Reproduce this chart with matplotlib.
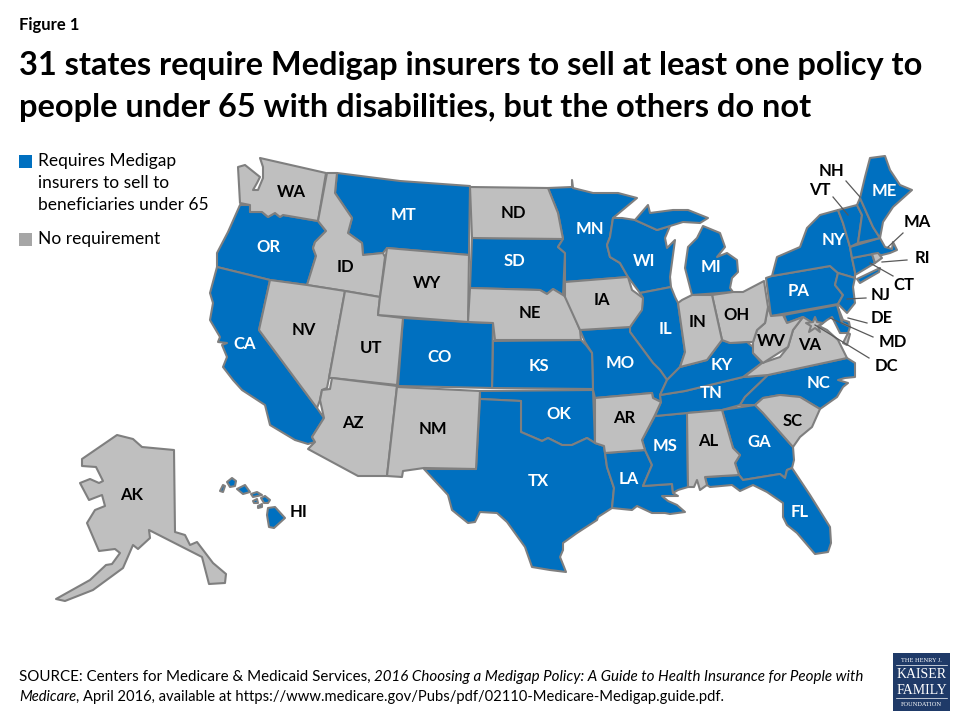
import matplotlib
matplotlib.use('Agg')
import matplotlib.pyplot as plt
from matplotlib.patches import Polygon, Rectangle

plt.rcParams['font.family'] = ['Lato', 'DejaVu Sans']

# state outlines (image pixels)
WA = [(260,158),(326,173),(318,221),(283,215),(280,217),(275,213),(268,217),(262,212),(250,212),(250,205),(240,203),(238,167),(245,165),(255,173),(260,177),(257,183),(253,190),(258,190),(263,178),(263,167)]
OR = [(240,205),(250,205),(250,212),(262,212),(268,217),(275,213),(280,217),(283,215),(318,221),(326,231),(315,242),(313,248),(316,256),(307,285),(270,280),(217,267),(217,253),(228,232)]
CA = [(217,267),(270,280),(259,330),(317,408),(324,418),(312,437),(315,442),(308,444),(295,440),(270,425),(265,405),(242,390),(233,380),(223,367),(227,357),(222,345),(227,343),(218,342),(220,337),(210,320),(213,303),(210,293)]
NV = [(270,280),(307,285),(345,291),(329,378),(327,388),(322,390),(320,400),(317,408),(259,330)]
ID = [(327,173),(337,173),(335,193),(352,218),(348,233),(362,243),(363,255),(383,253),(385,257),(380,297),(345,291),(307,285),(316,256),(313,248),(315,242),(326,231),(318,221)]
MT = [(337,173),(400,181),(470,186),(469,255),(387,248),(383,253),(363,255),(362,243),(348,233),(352,218),(335,193)]
WY = [(387,248),(469,255),(468,322),(378,315),(380,297)]
UT = [(345,291),(380,297),(378,315),(403,318),(397,385),(332,378),(329,378)]
CO = [(403,318),(468,322),(493,323),(492,388),(398,386)]
ND = [(470,187),(548,188),(558,213),(563,239),(472,238)]
SD = [(472,238),(563,239),(558,247),(565,253),(563,295),(553,289),(547,294),(540,290),(470,288)]
NE = [(470,288),(540,290),(547,294),(553,289),(563,295),(567,298),(580,330),(581,340),(495,340),(493,323),(468,322)]
KS = [(493,341),(581,340),(586,345),(592,353),(593,389),(492,388)]
OK = [(480,391),(593,390),(595,443),(587,438),(572,445),(562,445),(548,438),(542,441),(521,432),(521,401),(480,399)]
NM = [(397,387),(480,391),(476,469),(424,468),(403,471),(402,477),(387,476)]
AZ = [(332,378),(397,386),(387,476),(358,476),(308,449),(315,442),(312,437),(324,418),(320,400),(322,390),(330,389)]
TX = [(480,399),(521,401),(521,432),(542,441),(548,438),(562,445),(572,445),(587,438),(595,443),(604,446),(605,453),(607,467),(614,488),(612,508),(598,517),(597,520),(577,533),(563,543),(563,550),(560,557),(566,572),(550,570),(532,567),(525,547),(507,522),(497,513),(480,512),(475,522),(468,523),(452,510),(448,495),(424,469),(476,469)]
AR = [(595,398),(652,393),(653,398),(661,402),(655,415),(642,440),(645,450),(605,453),(604,446),(595,443)]
LA = [(605,453),(645,450),(652,465),(643,486),(672,484),(673,493),(678,496),(662,496),(668,501),(677,505),(685,512),(670,514),(665,513),(662,513),(652,513),(637,506),(632,510),(612,508),(614,488),(607,467)]
MS = [(655,416),(687,413),(688,487),(678,490),(673,493),(672,484),(643,486),(652,465),(645,450),(642,440)]
AL = [(687,413),(722,410),(733,448),(740,455),(735,463),(739,475),(705,477),(707,485),(700,490),(697,480),(694,487),(688,487)]
GA = [(722,410),(755,405),(763,413),(793,447),(794,460),(792,468),(787,470),(785,478),(780,474),(743,480),(739,475),(735,463),(740,455),(733,448)]
FL = [(705,477),(739,475),(743,480),(780,474),(785,478),(787,470),(792,468),(810,495),(830,527),(831,543),(828,552),(815,554),(797,533),(787,525),(783,517),(783,503),(767,492),(753,485),(740,491),(732,485),(710,487),(707,485)]
SC = [(755,405),(763,398),(780,395),(800,397),(820,409),(812,427),(800,437),(793,447),(763,413)]
NC = [(740,405),(745,397),(768,375),(847,358),(855,363),(855,377),(845,378),(838,380),(848,383),(843,387),(837,397),(820,409),(800,397),(780,395),(763,398),(755,405)]
TN = [(660,395),(685,391),(743,377),(768,375),(745,397),(740,405),(722,410),(687,413),(655,416),(661,402)]
KY = [(667,380),(680,367),(707,360),(722,340),(730,343),(747,342),(753,347),(753,353),(762,363),(743,377),(685,391),(660,395)]
MO = [(580,330),(630,327),(630,332),(653,363),(660,370),(667,380),(660,395),(661,402),(653,398),(652,393),(595,398),(593,390),(592,353),(585,342)]
IA = [(565,282),(628,277),(632,290),(643,298),(642,310),(630,327),(580,330),(565,297)]
MN = [(548,188),(572,187),(572,180),(573,188),(593,193),(618,193),(637,198),(613,218),(610,237),(607,245),(610,257),(620,263),(628,277),(565,282),(565,253),(558,247),(563,239),(558,213)]
WI = [(613,218),(622,218),(635,220),(657,230),(670,226),(665,238),(667,248),(675,240),(670,277),(671,287),(640,293),(628,277),(620,263),(610,257),(607,245),(610,237)]
MI_UP = [(635,220),(648,205),(650,213),(673,210),(688,210),(708,218),(700,223),(683,222),(670,226),(657,230)]
MI_LOW = [(703,226),(720,233),(725,247),(717,257),(727,253),(737,260),(738,272),(732,278),(730,288),(733,292),(692,295),(685,268),(688,247),(697,238)]
IL = [(640,293),(671,287),(675,297),(678,303),(685,352),(680,367),(667,380),(660,370),(653,363),(630,332),(630,327),(642,308),(643,298)]
IN = [(678,303),(682,300),(692,295),(712,295),(722,340),(707,360),(680,367),(685,352)]
OH = [(712,295),(733,292),(743,292),(764,281),(768,307),(765,323),(757,330),(753,342),(747,342),(730,343),(722,340)]
WV = [(771,316),(783,315),(787,323),(803,317),(793,330),(788,347),(763,363),(753,353),(753,342),(757,330),(765,323),(768,307)]
VA = [(744,377),(762,363),(780,357),(788,347),(793,330),(803,317),(813,323),(827,330),(838,340),(847,358),(768,375)]
VA_TIP = [(843,343),(848,333),(850,334),(847,345)]
MD = [(784,315),(837,305),(842,323),(850,327),(848,333),(840,333),(832,317),(827,320),(818,327),(803,317),(787,323)]
DE = [(837,305),(843,320),(849,322),(850,327),(842,323)]
PA = [(766,278),(772,276),(830,266),(838,273),(835,285),(843,295),(838,304),(771,316)]
NJ = [(838,273),(855,278),(853,287),(855,303),(847,313),(838,304),(843,295),(835,285)]
NY = [(772,276),(777,257),(800,247),(807,228),(820,215),(838,210),(843,223),(850,247),(852,258),(855,272),(855,278),(838,273),(830,266)]
LONG_ISLAND = [(857,279),(880,268),(879,272),(860,283)]
VT = [(838,210),(857,205),(862,215),(858,243),(850,247),(843,223)]
NH = [(857,205),(860,198),(873,227),(880,238),(858,243),(862,215)]
ME = [(860,198),(865,177),(870,158),(885,156),(890,170),(900,185),(912,190),(893,207),(883,222),(880,238),(873,227)]
MA = [(850,247),(880,238),(885,247),(892,249),(893,242),(897,250),(890,253),(882,255),(873,254),(852,258)]
CT = [(852,258),(872,254),(875,263),(855,275),(855,272)]
RI = [(872,254),(878,253),(882,258),(875,263)]
DC = [(815,317),(817,322),(823,323),(818,326),(820,332),(815,328),(809,332),(811,326),(806,323),(813,322)]
AK = [(117,435),(133,439),(142,447),(174,450),(175,532),(185,535),(190,545),(197,542),(213,563),(226,574),(225,583),(209,584),(202,557),(149,530),(150,538),(138,549),(133,545),(123,568),(93,590),(65,601),(56,599),(90,580),(106,565),(112,564),(120,553),(115,549),(99,551),(87,523),(95,510),(105,506),(102,495),(89,500),(80,483),(90,479),(99,483),(103,481),(96,467),(82,466),(82,459)]
HI_NIIHAU = [(220,491),(223,485),(225,486),(223,492)]
HI_KAUAI = [(227,482),(232,478),(236,481),(235,486),(230,487)]
HI_OAHU = [(237,489),(245,485),(250,492),(243,494)]
HI_MOLOKAI = [(251,494),(257,492),(262,495),(253,497)]
HI_LANAI = [(253,501),(257,499),(258,503),(254,503)]
HI_KAHOOLAWE = [(258,506),(262,504),(262,507),(258,508)]
HI_MAUI = [(261,498),(265,496),(270,500),(268,503),(264,503)]
HI_BIG = [(267,515),(268,508),(275,507),(285,518),(274,528),(269,527)]

required = [OR, CA, MT, SD, MN, WI, MI_UP, MI_LOW, IL, MO, KS, CO, OK, TX, LA, MS, TN, KY, GA, FL, NC, PA, NY, LONG_ISLAND, NJ, DE, MD, CT, MA, VT, NH, ME,
            HI_NIIHAU, HI_KAUAI, HI_OAHU, HI_MOLOKAI, HI_LANAI, HI_KAHOOLAWE, HI_MAUI, HI_BIG]
not_required = [WA, ID, NV, UT, AZ, NM, WY, ND, NE, IA, AR, AL, SC, VA, VA_TIP, WV, OH, IN, RI, DC, AK]

# state labels
white_labels = ['OR', 'CA', 'MT', 'CO', 'SD', 'KS', 'OK', 'TX', 'MN', 'MO', 'LA', 'MS', 'WI', 'IL', 'MI', 'KY', 'TN', 'GA', 'FL', 'NC', 'PA', 'NY', 'ME']
white_x = [268, 245, 404, 440, 514, 539, 559, 538, 590, 620, 629, 665, 644, 666, 711, 722, 711, 759, 800, 819, 799, 833, 884]
white_y = [247, 344, 215, 357, 261, 366, 414, 481, 229, 363, 479, 446, 261, 329, 267, 365, 393, 442, 512, 383, 291, 240, 191]
black_labels = ['WA', 'NV', 'ID', 'WY', 'UT', 'ND', 'NE', 'NM', 'AZ', 'IA', 'AR', 'AL', 'SC', 'VA', 'WV', 'IN', 'OH', 'AK', 'HI', 'NH', 'VT', 'MA', 'RI', 'CT', 'NJ', 'DE', 'MD', 'DC']
black_x = [291, 304, 345, 427, 371, 513, 530, 433, 353, 602, 624, 708, 793, 810, 771, 698, 737, 132, 299, 831, 820, 917, 922, 904, 881, 882, 893, 886]
black_y = [192, 330, 267, 283, 348, 213, 313, 429, 423, 300, 418, 441, 421, 345, 341, 322, 315, 495, 512, 171, 190, 222, 258, 285, 295, 318, 342, 366]

# leader lines for the small eastern states
leader_x0 = [846, 833, 903, 907, 893, 866, 867, 873, 869]
leader_y0 = [181, 197, 233, 260, 276, 298, 323, 337, 358]
leader_x1 = [860, 848, 888, 882, 870, 847, 848, 830, 815]
leader_y1 = [197, 215, 247, 262, 263, 299, 318, 318, 325]

BLUE = '#0070C0'
GREY = '#BFBFBF'
EDGE = '#7F7F7F'

fig = plt.figure(figsize=(9.6, 7.2), dpi=100)
ax = fig.add_axes([0, 0, 1, 1])
ax.set_xlim(0, 960)
ax.set_ylim(720, 0)
ax.axis('off')

for outline in required:
    ax.add_patch(Polygon(outline, closed=True, facecolor=BLUE, edgecolor=EDGE, linewidth=1.5, joinstyle='round'))
for outline in not_required:
    ax.add_patch(Polygon(outline, closed=True, facecolor=GREY, edgecolor=EDGE, linewidth=1.5, joinstyle='round'))

for x0, y0, x1, y1 in zip(leader_x0, leader_y0, leader_x1, leader_y1):
    ax.plot([x0, x1], [y0, y1], color='#595959', linewidth=0.9)

for name, x, y in zip(white_labels, white_x, white_y):
    ax.text(x, y, name, color='white', fontsize=12, fontweight='bold', ha='center', va='center')
for name, x, y in zip(black_labels, black_x, black_y):
    ax.text(x, y, name, color='black', fontsize=12, fontweight='bold', ha='center', va='center')

# heading
ax.text(19, 25, 'Figure 1', fontsize=12, fontweight='bold', va='center')
ax.text(19, 66, '31 states require Medigap insurers to sell at least one policy to', fontsize=23.4, fontweight='bold', va='center')
ax.text(19, 108, 'people under 65 with disabilities, but the others do not', fontsize=23.4, fontweight='bold', va='center')

# legend
ax.add_patch(Rectangle((19, 155), 13, 13, facecolor=BLUE, edgecolor='none'))
ax.text(38, 161, 'Requires Medigap', fontsize=12.5, va='center')
ax.text(38, 183, 'insurers to sell to', fontsize=12.5, va='center')
ax.text(38, 205, 'beneficiaries under 65', fontsize=12.5, va='center')
ax.add_patch(Rectangle((19, 233), 13, 13, facecolor='#A6A6A6', edgecolor='none'))
ax.text(38, 239, 'No requirement', fontsize=12.5, va='center')

# source, italic part runs on from the plain part
fig.canvas.draw()
renderer = fig.canvas.get_renderer()
x = 19
for piece, style in [('SOURCE: Centers for Medicare & Medicaid Services, ', 'normal'),
                     ('2016 Choosing a Medigap Policy: A Guide to Health Insurance for People with', 'italic')]:
    t = ax.text(x, 677, piece, fontsize=10.9, style=style, va='center')
    x = ax.transData.inverted().transform(t.get_window_extent(renderer))[1][0]
x = 19
for piece, style in [('Medicare', 'italic'),
                     (', April 2016, available at https://www.medicare.gov/Pubs/pdf/02110-Medicare-Medigap.guide.pdf.', 'normal')]:
    t = ax.text(x, 697, piece, fontsize=10.6, style=style, va='center')
    x = ax.transData.inverted().transform(t.get_window_extent(renderer))[1][0]

# logo
ax.add_patch(Rectangle((893, 653), 57, 58, facecolor='#1F3A68', edgecolor='none'))
logo_font = ['Liberation Serif', 'DejaVu Serif']
ax.text(921.5, 660, 'THE HENRY J.', color='white', fontsize=4.6, family=logo_font, ha='center', va='center')
ax.text(921.5, 674, 'KAISER', color='white', fontsize=10, family=logo_font, ha='center', va='center')
ax.text(921.5, 690, 'FAMILY', color='white', fontsize=10, family=logo_font, ha='center', va='center')
ax.text(921.5, 704, 'FOUNDATION', color='white', fontsize=4.6, family=logo_font, ha='center', va='center')
ax.plot([896, 947], [665, 665], color='white', linewidth=0.5)
ax.plot([896, 947], [698, 698], color='white', linewidth=0.5)

fig.savefig('out.png', dpi=100)
